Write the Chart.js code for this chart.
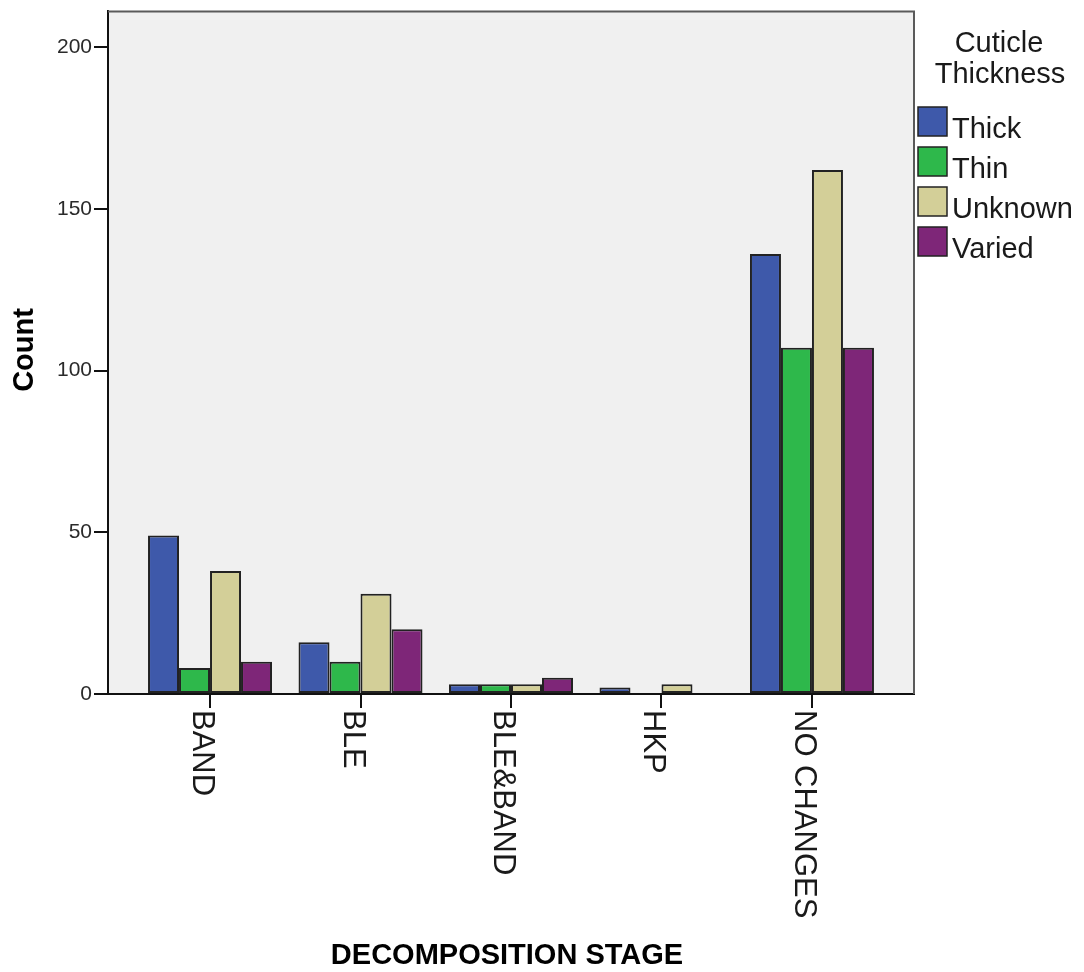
<!DOCTYPE html>
<html>
<head>
<meta charset="utf-8">
<script src="https://cdn.jsdelivr.net/npm/chart.js@4.4.1/dist/chart.umd.min.js"></script>
<style>
  body { margin: 0; background: #fff; }
  canvas { display: block; }
</style>
</head>
<body>
<canvas id="chart" width="1084" height="972"></canvas>
<script>
// Decomposition stage categories and counts per cuticle thickness
const categories = ['BAND', 'BLE', 'BLE&BAND', 'HKP', 'NO CHANGES'];
const thick = [49, 16, 3, 2, 136];
const thin = [8, 10, 3, 0, 107];
const unknown = [38, 31, 3, 3, 162];
const varied = [10, 20, 5, 0, 107];
const seriesNames = ['Thick', 'Thin', 'Unknown', 'Varied'];
const seriesColors = ['#3E59AA', '#2EB84B', '#D3CF98', '#7E2678'];
const yTicks = [0, 50, 100, 150, 200];

const FONT = '"Liberation Sans", Arial, sans-serif';

function toPoints(values) {
  return values.map((v, i) => ({ x: i, y: v }));
}

const datasets = [thick, thin, unknown, varied].map((vals, i) => ({
  label: seriesNames[i],
  data: toPoints(vals),
  backgroundColor: seriesColors[i],
  borderColor: '#222',
  borderWidth: 2,
  borderSkipped: false,
  categoryPercentage: 0.824,
  barPercentage: 1
}));

// draws background, frame, category labels, axis titles and legend
const decorations = {
  id: 'decorations',
  beforeDraw(chart) {
    const { ctx, chartArea: a } = chart;
    ctx.save();
    ctx.fillStyle = '#F0F0F0';
    ctx.fillRect(a.left, a.top, a.right - a.left, a.bottom - a.top);
    ctx.restore();
  },
  afterDraw(chart) {
    const { ctx, chartArea: a } = chart;
    const xs = chart.scales.x;
    ctx.save();

    // top and right edge of the frame
    ctx.strokeStyle = '#5a5a5a';
    ctx.lineWidth = 2;
    ctx.beginPath();
    ctx.moveTo(a.left, a.top);
    ctx.lineTo(a.right, a.top);
    ctx.lineTo(a.right, a.bottom);
    ctx.stroke();

    // category labels, rotated clockwise
    ctx.fillStyle = '#1a1a1a';
    ctx.font = '31px ' + FONT;
    ctx.textAlign = 'left';
    ctx.textBaseline = 'alphabetic';
    categories.forEach((c, i) => {
      const px = xs.getPixelForValue(i);
      ctx.save();
      ctx.translate(px, 710);
      ctx.rotate(Math.PI / 2);
      ctx.fillText(c, 0, 17);
      ctx.restore();
    });

    // axis titles
    ctx.fillStyle = '#000';
    ctx.font = 'bold 29px ' + FONT;
    ctx.textAlign = 'center';
    ctx.fillText('DECOMPOSITION STAGE', 507, 964);
    ctx.save();
    ctx.translate(33, 350);
    ctx.rotate(-Math.PI / 2);
    ctx.fillText('Count', 0, 0);
    ctx.restore();

    // legend
    ctx.font = '29px ' + FONT;
    ctx.fillStyle = '#1a1a1a';
    ctx.fillText('Cuticle', 999, 52);
    ctx.fillText('Thickness', 1000, 83);
    ctx.textAlign = 'left';
    chart.data.datasets.forEach((ds, i) => {
      const y = 107 + i * 40;
      ctx.fillStyle = ds.backgroundColor;
      ctx.fillRect(918, y, 29, 29);
      ctx.strokeStyle = '#222';
      ctx.lineWidth = 1.5;
      ctx.strokeRect(918, y, 29, 29);
      ctx.fillStyle = '#1a1a1a';
      ctx.fillText(ds.label, 952, y + 31);
    });
    ctx.restore();
  }
};

new Chart(document.getElementById('chart'), {
  type: 'bar',
  data: { datasets: datasets },
  plugins: [decorations],
  options: {
    responsive: false,
    devicePixelRatio: 1,
    animation: false,
    layout: { padding: { left: 0, top: 10, right: 170, bottom: 0 } },
    plugins: {
      legend: { display: false },
      tooltip: { enabled: false }
    },
    scales: {
      x: {
        type: 'linear',
        offset: false,
        min: -0.678,
        max: 4.678,
        afterFit: s => { s.height = 972 - 694; },
        afterBuildTicks: s => { s.ticks = categories.map((c, i) => ({ value: i })); },
        ticks: {
          callback: () => ''
        },
        grid: {
          offset: false,
          drawOnChartArea: false,
          drawTicks: true,
          tickLength: 14,
          tickColor: '#111',
          lineWidth: 2
        },
        border: { display: true, color: '#111', width: 2 }
      },
      y: {
        min: 0,
        max: 211,
        afterFit: s => { s.width = 108; },
        afterBuildTicks: s => { s.ticks = yTicks.map(v => ({ value: v })); },
        ticks: {
          padding: 2,
          color: '#2a2a2a',
          font: { family: FONT, size: 21, lineHeight: 0.9 }
        },
        grid: {
          drawOnChartArea: false,
          drawTicks: true,
          tickLength: 14,
          tickColor: '#111',
          lineWidth: 2
        },
        border: { display: true, color: '#111', width: 2 }
      }
    }
  }
});
</script>
</body>
</html>
